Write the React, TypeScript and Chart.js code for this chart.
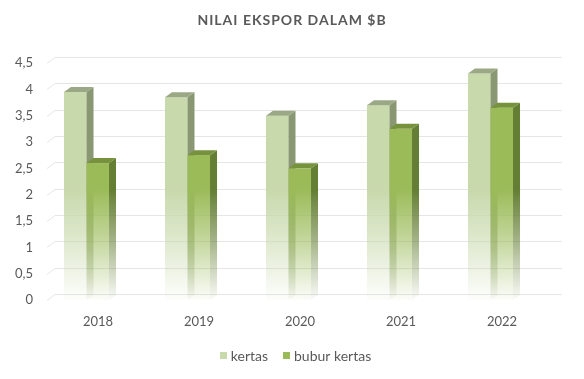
import React, { useEffect, useRef } from 'react';
import { Chart, registerables } from 'chart.js';

Chart.register(...registerables);

const TITLE = 'NILAI EKSPOR DALAM $B';
const CATEGORIES = ['2018', '2019', '2020', '2021', '2022'];
const SERIES_NAMES = ['kertas', 'bubur kertas'];
const KERTAS = [3.95, 3.85, 3.5, 3.7, 4.3];
const BUBUR_KERTAS = [2.6, 2.75, 2.5, 3.25, 3.65];
const Y_TICK_LABELS = ['0', '0,5', '1', '1,5', '2', '2,5', '3', '3,5', '4', '4,5'];

// styles
const FRONT = [[200, 217, 172], [155, 187, 89]];
const SIDE = [[137, 151, 114], [100, 126, 52]];
const TOP = [[155, 168, 134], [118, 146, 60]];
const TEXT_COLOR = '#595959';
const GRID_COLOR = '#e6e6e6';
const FONT = 'Lato, "Open Sans", sans-serif';
const DX = 7;
const DY = 5;

const rgba = (c: number[], a: number) => `rgba(${c[0]},${c[1]},${c[2]},${a})`;

const threeDPlugin = {
  id: 'threeD',
  beforeDatasetsDraw(chart: any) {
    const { ctx, chartArea, scales } = chart;
    const y = scales.y;
    ctx.save();
    ctx.strokeStyle = GRID_COLOR;
    ctx.lineWidth = 1;
    y.ticks.forEach((t: any) => {
      const fy = Math.round(y.getPixelForValue(t.value)) + 0.5;
      ctx.beginPath();
      ctx.moveTo(chartArea.left + 11, fy);
      ctx.lineTo(chartArea.left + 19, fy - 6);
      ctx.lineTo(chartArea.right + 21, fy - 6);
      ctx.stroke();
    });
    ctx.restore();
  },
  afterDatasetsDraw(chart: any) {
    const { ctx, scales } = chart;
    const y = scales.y;
    const fadeTop = y.getPixelForValue(2.1);
    const fadeBottom = y.getPixelForValue(0);
    const grad = (c: number[]) => {
      const g = ctx.createLinearGradient(0, fadeTop, 0, fadeBottom);
      g.addColorStop(0, rgba(c, 1));
      g.addColorStop(0.45, rgba(c, 0.6));
      g.addColorStop(1, rgba(c, 0.03));
      return g;
    };
    ctx.save();
    const n = CATEGORIES.length;
    for (let i = 0; i < n; i++) {
      chart.data.datasets.forEach((_: any, d: number) => {
        const meta = chart.getDatasetMeta(d);
        const el = meta.data[i];
        if (!el) return;
        const { x, y: top, base, width } = el.getProps(['x', 'y', 'base', 'width'], true);
        const L = x - width / 2;
        const R = x + width / 2;
        ctx.fillStyle = grad(FRONT[d]);
        ctx.fillRect(L, top, R - L, base - top);
        ctx.fillStyle = grad(SIDE[d]);
        ctx.beginPath();
        ctx.moveTo(R, top);
        ctx.lineTo(R + DX, top - DY);
        ctx.lineTo(R + DX, base - DY);
        ctx.lineTo(R, base);
        ctx.closePath();
        ctx.fill();
        ctx.fillStyle = rgba(TOP[d], 1);
        ctx.beginPath();
        ctx.moveTo(L, top);
        ctx.lineTo(L + DX, top - DY);
        ctx.lineTo(R + DX, top - DY);
        ctx.lineTo(R, top);
        ctx.closePath();
        ctx.fill();
      });
    }
    ctx.restore();
  },
  afterDraw(chart: any) {
    const { ctx } = chart;
    ctx.save();
    // title
    ctx.font = `bold 14px ${FONT}`;
    ctx.fillStyle = TEXT_COLOR;
    ctx.textAlign = 'center';
    ctx.textBaseline = 'middle';
    try { (ctx as any).letterSpacing = '1px'; } catch (e) {}
    ctx.fillText(TITLE, 292, 20);
    try { (ctx as any).letterSpacing = '0px'; } catch (e) {}
    // legend
    ctx.font = `14px ${FONT}`;
    ctx.textAlign = 'left';
    const box = 7, gapText = 4, gapItem = 15;
    const widths = SERIES_NAMES.map((s) => ctx.measureText(s).width);
    const total = widths.reduce((a, w) => a + box + gapText + w, 0) + gapItem * (SERIES_NAMES.length - 1);
    let x = 295.5 - total / 2;
    const cy = 356;
    SERIES_NAMES.forEach((s, d) => {
      ctx.fillStyle = rgba(FRONT[d], 1);
      ctx.fillRect(Math.round(x), cy - 4, box, box);
      ctx.fillStyle = TEXT_COLOR;
      ctx.fillText(s, x + box + gapText, cy);
      x += box + gapText + widths[d] + gapItem;
    });
    ctx.restore();
  },
};

export default function App() {
  const ref = useRef<HTMLCanvasElement | null>(null);
  useEffect(() => {
    document.body.style.margin = '0';
    const canvas = ref.current!;
    const chart = new Chart(canvas, {
      type: 'bar',
      data: {
        labels: CATEGORIES,
        datasets: [
          { label: SERIES_NAMES[0], data: KERTAS, backgroundColor: 'rgba(0,0,0,0)', borderWidth: 0 },
          { label: SERIES_NAMES[1], data: BUBUR_KERTAS, backgroundColor: 'rgba(0,0,0,0)', borderWidth: 0 },
        ],
      },
      options: {
        responsive: false,
        animation: false,
        events: [],
        layout: { padding: { top: 63, right: 43, left: 0, bottom: 40 } },
        datasets: { bar: { categoryPercentage: 0.446, barPercentage: 1 } },
        scales: {
          x: {
            grid: { display: false, drawTicks: false },
            border: { display: false },
            ticks: { color: TEXT_COLOR, font: { family: FONT, size: 13 }, padding: 14, labelOffset: 11.5, maxRotation: 0 },
            afterFit: (s: any) => { s.height = 39; },
          },
          y: {
            min: 0,
            max: 4.5,
            grid: { display: false, drawTicks: false },
            border: { display: false },
            ticks: {
              stepSize: 0.5,
              color: TEXT_COLOR,
              font: { family: FONT, size: 13 },
              padding: 3,
              callback: (_v: any, idx: number) => Y_TICK_LABELS[idx],
            },
            afterFit: (s: any) => { s.width = 36; },
          },
        },
        plugins: {
          title: { display: false },
          tooltip: { enabled: false },
          legend: { display: false },
        },
      },
      plugins: [threeDPlugin],
    });
    return () => chart.destroy();
  }, []);
  return (
    <div style={{ width: 584, height: 379, background: '#fff' }}>
      <canvas ref={ref} width={584} height={379} style={{ display: 'block', width: 584, height: 379 }} />
    </div>
  );
}
